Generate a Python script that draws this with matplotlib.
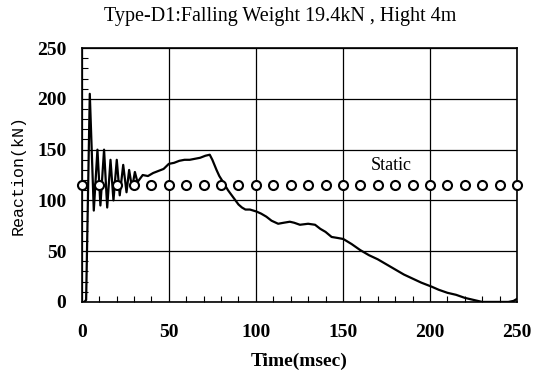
import matplotlib.pyplot as plt
import numpy as np

time_ms = [0, 1.5, 2.5, 4.6, 6.9, 9.0, 10.7, 12.8, 14.6, 16.5, 18.2, 20.1, 21.8,
           23.8, 25.7, 27.2, 28.9, 30.5, 32, 35, 38, 41, 44, 47, 50, 53, 56, 59,
           62, 65, 68, 71, 73.5, 75, 77.4, 79, 81.2, 84, 87, 90, 92, 94, 96.6,
           100.4, 103, 106, 109, 112.8, 116, 119.5, 122, 125.3, 130, 134, 137,
           140, 143.5, 147, 150.2, 155, 160, 165, 170, 175, 180, 185, 190, 195,
           201, 205, 210, 215, 220, 225, 230, 235, 240, 245, 248, 250]
reaction = [0, 0, 2, 205, 90, 150, 95, 150, 93, 140, 100, 140, 105, 135, 108,
            130, 112, 128, 118, 125, 124, 127, 129, 131, 136, 137, 139, 140,
            140, 141, 142, 144, 145, 140, 130, 124, 118, 110, 103, 96, 93, 91,
            91, 89, 87, 84, 80, 77, 78, 79, 78, 76, 77, 76, 72, 69, 64, 63, 62,
            57, 51, 46, 42, 37, 32, 27, 23, 19, 15, 12, 9, 7, 4, 2, 0, 0, 0, 0,
            1, 3]

# static load marks
static_t = np.arange(0, 251, 10)
static_val = [115] * len(static_t)

plt.rcParams['font.family'] = ['Liberation Serif', 'DejaVu Serif']

fig = plt.figure(figsize=(5.38, 3.76), dpi=100)
ax = fig.add_axes([0.152, 0.197, 0.809, 0.675])

ax.plot(time_ms, reaction, color='black', linewidth=1.6, zorder=3)
ax.plot(static_t, static_val, linestyle='none', marker='o', markersize=6.5,
        markerfacecolor='white', markeredgecolor='black', markeredgewidth=1.5,
        zorder=4, clip_on=False)
ax.text(178, 134, 'Static', fontsize=13, ha='center', va='center')

ax.set_xlim(0, 250)
ax.set_ylim(0, 250)
ax.set_xticks(range(0, 251, 50))
ax.set_yticks(range(0, 251, 50))
ax.set_xticks(range(0, 251, 10), minor=True)
ax.set_yticks(range(0, 251, 10), minor=True)
ax.tick_params(which='major', length=0, labelsize=14)
ax.tick_params(axis='x', which='major', pad=16)
ax.tick_params(axis='y', which='major', pad=11)
ax.tick_params(which='minor', direction='in', length=4, width=0.8)
for lab in ax.get_xticklabels() + ax.get_yticklabels():
    lab.set_fontweight('bold')
ax.grid(True, which='major', color='black', linewidth=0.9)
for s in ax.spines.values():
    s.set_linewidth(1.2)

fig.text(280 / 538, 1 - 16 / 376, 'Type-D1:Falling Weight 19.4kN , Hight 4m',
         fontsize=14.5, ha='center', va='center')
ax.set_xlabel('Time(msec)', fontsize=14, fontweight='bold', labelpad=8)
ax.set_ylabel('Reaction(kN)', fontsize=12, family='Liberation Mono', labelpad=8)

fig.savefig('out.png', dpi=100)
